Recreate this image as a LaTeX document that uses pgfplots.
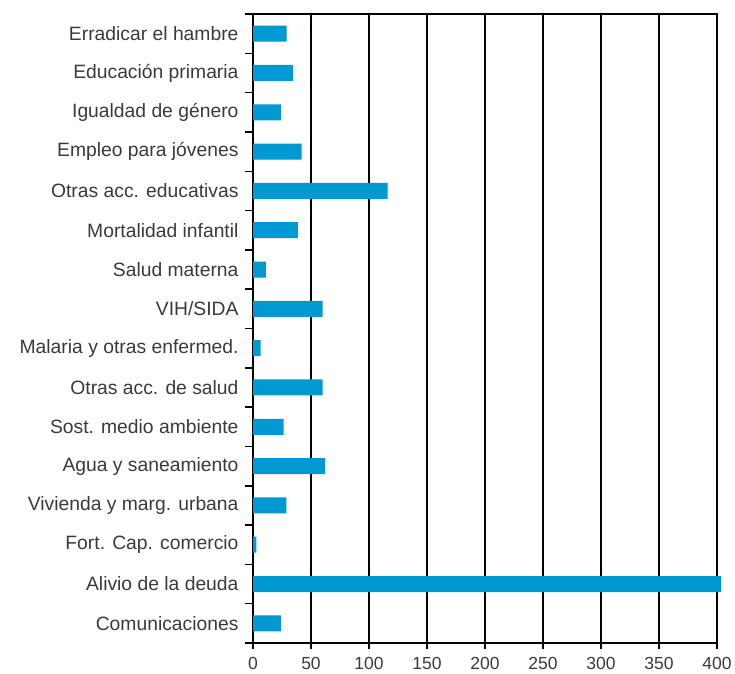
\documentclass[border=0pt]{standalone}
\usepackage{pgfplots}
\pgfplotsset{compat=1.18}
\usepackage{fontspec}
\setmainfont{Liberation Sans}
\definecolor{barblue}{HTML}{0099D1}
\definecolor{txt}{HTML}{3A3A3A}
\begin{document}
\begin{tikzpicture}
\begin{axis}[
  name=ax,
  scale only axis,
  width=464bp, height=629bp,
  xmin=0, xmax=400,
  ymin=-0.5, ymax=15.5,
  y dir=reverse,
  clip=false,
  axis line style={line width=1.5bp, black},
  xtick={0,50,...,400},
  xmajorgrids,
  major grid style={line width=1.5bp, black},
  xtick style={line width=1.5bp, black},
  major tick length=6bp,
  tick align=outside,
  xtick pos=bottom,
  ytick={0,...,15},
  yticklabels={Erradicar el hambre,Educación primaria,Igualdad de género,Empleo para jóvenes,Otras acc. educativas,Mortalidad infantil,Salud materna,VIH/SIDA,Malaria y otras enfermed.,Otras acc. de salud,Sost. medio ambiente,Agua y saneamiento,Vivienda y marg. urbana,Fort. Cap. comercio,Alivio de la deuda,Comunicaciones},
  major y tick style={draw=none},
  minor ytick={-0.5,0.5,...,15.5},
  minor tick length=8bp,
  minor y tick style={line width=1.5bp, black, draw=black},
  ytick pos=left,
  yticklabel style={font=\fontsize{19.3bp}{21bp}\selectfont, text=txt, xshift=-5bp},
  xticklabel style={font=\fontsize{17.5bp}{19bp}\selectfont, text=txt, yshift=-5bp},
  /pgf/number format/assume math mode=true,
]
\addplot[xbar, bar width=16bp, fill=barblue, draw=none] coordinates {
(29,0) (34.3,1) (24,2) (42,3) (116,4) (38.6,5) (11,6) (60,7) (6.6,8) (60,9) (26.5,10) (62,11) (28.8,12) (2.9,13) (403.5,14) (24,15)
};
\end{axis}
\pgfresetboundingbox
\useasboundingbox ([xshift=-253bp,yshift=-30bp]ax.south west) rectangle ([xshift=18bp,yshift=14bp]ax.north east);
\end{tikzpicture}
\end{document}
